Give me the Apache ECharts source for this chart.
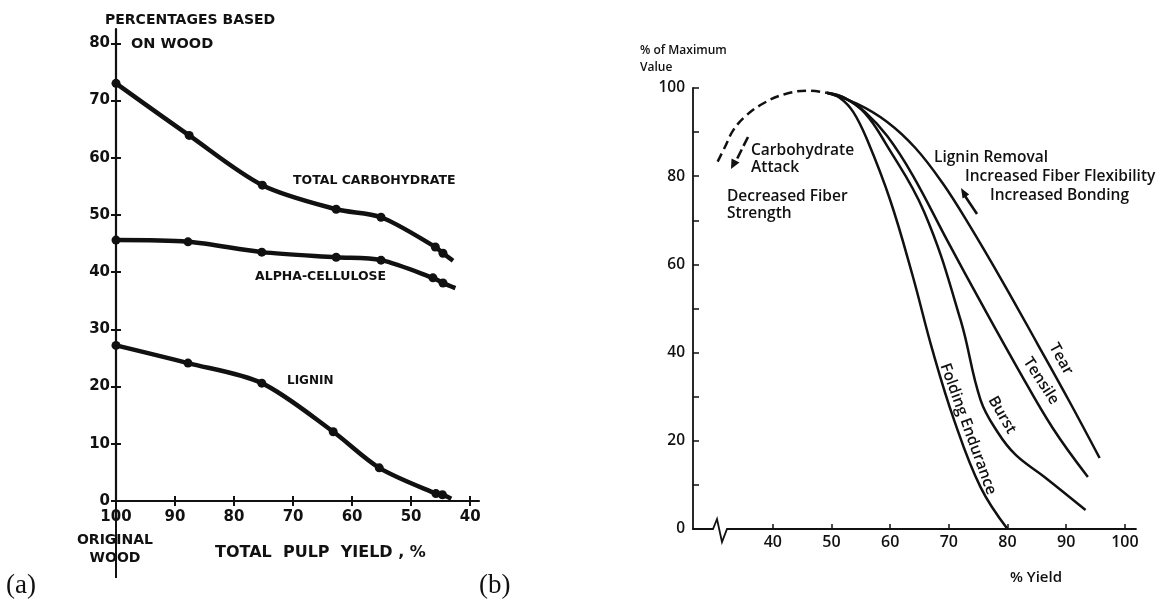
<!DOCTYPE html>
<html>
<head>
<meta charset="utf-8">
<script src="https://cdn.jsdelivr.net/npm/echarts@6/dist/echarts.min.js"></script>
<style>
  html, body { margin: 0; padding: 0; background: #fff; }
  #chart { width: 1165px; height: 604px; }
</style>
</head>
<body>
<div id="chart"></div>
<script>
// ---- Panel (a): pulp composition vs. total pulp yield ----
const yieldTicksA = [100, 90, 80, 70, 60, 50, 40];
const percentTicksA = [0, 10, 20, 30, 40, 50, 60, 70, 80];
// measured points [yield %, % on wood]
const totalCarbohydrate = [[100, 73.0], [87.6, 63.9], [75.2, 55.2], [62.7, 51.0], [55.1, 49.6], [45.9, 44.4], [44.6, 43.3]];
const totalCarbohydrateTail = [42.9, 42.0];
const alphaCellulose = [[100, 45.6], [87.8, 45.3], [75.3, 43.5], [62.7, 42.6], [55.1, 42.1], [46.3, 39.0], [44.6, 38.1]];
const alphaCelluloseTail = [42.5, 37.2];
const lignin = [[100, 27.2], [87.8, 24.1], [75.3, 20.6], [63.2, 12.1], [55.4, 5.8], [45.8, 1.3], [44.7, 1.1]];
const ligninTail = [43.2, 0.4];

// ---- Panel (b): pulp strength properties vs. yield ----
const yieldTicksB = [40, 50, 60, 70, 80, 90, 100];
const carbohydrateAttack = [[30.6, 83.3], [31.8, 86.5], [33.3, 90.5], [35.5, 93.8], [38.5, 96.6], [42, 98.6], [46, 99.4], [49.2, 98.9]];
const foldingEndurance = [[49.2, 98.9], [51.5, 97.7], [53.7, 94.6], [56.1, 88.2], [60.0, 74.6], [63.8, 57.6], [67.2, 40.6], [70.9, 24.7], [75.4, 9.5], [80.0, 0]];
const burst = [[49.2, 98.9], [52.3, 97.7], [55.7, 94.3], [59.2, 87.5], [65.8, 71.9], [72.0, 47.4], [75.4, 29.3], [78.3, 22.0], [81.4, 16.8], [86.3, 11.8], [93.3, 4.3]];
const tensile = [[49.2, 98.9], [52.3, 97.7], [55.7, 94.6], [59.5, 89.1], [63.8, 80.3], [69.7, 65.5], [75.7, 50.8], [81.7, 36.5], [87.7, 22.9], [93.7, 11.8]];
const tear = [[49.2, 98.9], [54.4, 96.4], [59.5, 92.3], [64.3, 86.4], [68.9, 78.5], [73.5, 68.9], [79.2, 56.0], [85.1, 42.0], [90.6, 28.8], [95.7, 16.1]];

const INK = '#111';
const fontA = '"DejaVu Sans", sans-serif';
const fontB = '"Open Sans", "Noto Sans", sans-serif';

function markedSeries(points, tail) {
  const data = points.map(p => ({ value: p }));
  data.push({ value: tail, symbol: 'none' });
  return data;
}

function lineA(data) {
  return {
    type: 'line', xAxisIndex: 0, yAxisIndex: 0, data: data,
    smooth: 0.3, symbol: 'circle', symbolSize: 9,
    itemStyle: { color: INK }, lineStyle: { color: INK, width: 4.5 },
    silent: true, animation: false, z: 3
  };
}
function lineB(data, dashed) {
  return {
    type: 'line', xAxisIndex: 2, yAxisIndex: 2, data: data,
    smooth: 0.4, symbol: 'none',
    lineStyle: { color: INK, width: 2.5, type: dashed ? [9, 5] : 'solid' },
    silent: true, animation: false
  };
}

function text(x, y, str, font, align, extra) {
  return Object.assign({
    type: 'text', x: x, y: y, silent: true, z: 10,
    style: { text: str, font: font, fill: INK, align: align || 'left', verticalAlign: 'middle' }
  }, extra || {});
}
function rotText(cx, cy, str, deg) {
  return {
    type: 'text', x: cx, y: cy, rotation: -deg * Math.PI / 180, silent: true, z: 10,
    style: { text: str, font: '600 15.5px ' + fontB, fill: INK, align: 'center', verticalAlign: 'middle' }
  };
}

const chart = echarts.init(document.getElementById('chart'), null, { renderer: 'canvas' });

const axisLineA = { show: true, lineStyle: { color: INK, width: 2.2 } };
const labelA = { color: INK, fontFamily: fontA, fontWeight: 'bold', fontSize: 15 };
const fontBText = '600 15.5px ' + fontB;

chart.setOption({
  backgroundColor: '#fff',
  animation: false,
  grid: [
    { left: 116, top: 29, width: 363, height: 472 },
    { left: 693, top: 88, width: 443, height: 441 }
  ],
  xAxis: [
    { // panel (a), ticks below axis + labels
      type: 'value', gridIndex: 0, inverse: true, min: 38.5, max: 100, position: 'bottom',
      axisLine: axisLineA, splitLine: { show: false },
      axisTick: { show: true, length: 5, lineStyle: { color: INK, width: 2 }, customValues: yieldTicksA },
      axisLabel: Object.assign({ margin: 9, customValues: yieldTicksA }, labelA)
    },
    { // panel (a), ticks above axis
      type: 'value', gridIndex: 0, inverse: true, min: 38.5, max: 100, position: 'bottom',
      axisLine: { show: false }, splitLine: { show: false }, axisLabel: { show: false },
      axisTick: { show: true, inside: true, length: 5, lineStyle: { color: INK, width: 2 }, customValues: yieldTicksA }
    },
    { // panel (b)
      type: 'value', gridIndex: 1, min: 26.4, max: 101.9, position: 'bottom',
      axisLine: { show: true, lineStyle: { color: INK, width: 1.8 } }, splitLine: { show: false },
      axisTick: { show: true, inside: true, length: 5, lineStyle: { color: INK, width: 1.5 }, customValues: yieldTicksB },
      axisLabel: { margin: 5, customValues: yieldTicksB, color: INK, fontFamily: fontB, fontWeight: 600, fontSize: 16 }
    }
  ],
  yAxis: [
    {
      type: 'value', gridIndex: 0, min: 0, max: 82.5, position: 'left',
      axisLine: axisLineA, splitLine: { show: false },
      axisTick: { show: true, length: 5, lineStyle: { color: INK, width: 2 }, customValues: percentTicksA },
      axisLabel: Object.assign({ margin: 6, customValues: percentTicksA }, labelA)
    },
    {
      type: 'value', gridIndex: 0, min: 0, max: 82.5, position: 'left',
      axisLine: { show: false }, splitLine: { show: false }, axisLabel: { show: false },
      axisTick: { show: true, inside: true, length: 5, lineStyle: { color: INK, width: 2 }, customValues: percentTicksA }
    },
    {
      type: 'value', gridIndex: 1, min: 0, max: 100, interval: 10, position: 'left',
      axisLine: { show: true, lineStyle: { color: INK, width: 1.8 } }, splitLine: { show: false },
      axisTick: { show: true, inside: true, length: 6, lineStyle: { color: INK, width: 1.5 } },
      axisLabel: { margin: 8, color: INK, fontFamily: fontB, fontWeight: 600, fontSize: 15.5,
        formatter: v => (v % 20 === 0 ? String(v) : '') }
    }
  ],
  series: [
    lineA(markedSeries(totalCarbohydrate, totalCarbohydrateTail)),
    lineA(markedSeries(alphaCellulose, alphaCelluloseTail)),
    lineA(markedSeries(lignin, ligninTail)),
    lineB(carbohydrateAttack, true),
    lineB(foldingEndurance),
    lineB(burst),
    lineB(tensile),
    lineB(tear)
  ],
  graphic: [
    // panel (a) annotations
    text(105, 20, 'PERCENTAGES BASED', 'bold 14px ' + fontA),
    text(131, 44, 'ON WOOD', 'bold 14.5px ' + fontA),
    text(293, 181, 'TOTAL CARBOHYDRATE', 'bold 12.5px ' + fontA),
    text(255, 277, 'ALPHA-CELLULOSE', 'bold 12.5px ' + fontA),
    text(287, 381, 'LIGNIN', 'bold 12px ' + fontA),
    { type: 'line', silent: true, shape: { x1: 116, y1: 501, x2: 116, y2: 578 }, style: { stroke: INK, lineWidth: 2 } },
    text(115, 540, 'ORIGINAL', 'bold 14px ' + fontA, 'center'),
    text(115, 558, 'WOOD', 'bold 14px ' + fontA, 'center'),
    text(215, 553, 'TOTAL  PULP  YIELD , %', 'bold 16px ' + fontA),
    text(6, 586, '(a)', '27px "Liberation Serif", "DejaVu Serif", serif'),
    text(479, 586, '(b)', '27px "Liberation Serif", "DejaVu Serif", serif'),

    // panel (b) annotations
    text(640, 51, '% of Maximum', '600 12px ' + fontB),
    text(640, 68, 'Value', '600 12px ' + fontB),
    text(751, 151, 'Carbohydrate', fontBText),
    text(751, 168, 'Attack', fontBText),
    text(727, 197, 'Decreased Fiber', fontBText),
    text(727, 214, 'Strength', fontBText),
    text(934, 158, 'Lignin Removal', fontBText),
    text(965, 177, 'Increased Fiber Flexibility', fontBText),
    text(990, 196, 'Increased Bonding', fontBText),
    text(1036, 578, '% Yield', '600 15px ' + fontB, 'center'),
    rotText(1061, 359, 'Tear', 61),
    rotText(1041, 381, 'Tensile', 57),
    rotText(1002, 415, 'Burst', 60),
    rotText(968, 429, 'Folding Endurance', 70),

    // carbohydrate-attack arrow (dashed, pointing down-left)
    { type: 'polyline', silent: true, shape: { points: [[748, 137], [736, 161]] },
      style: { stroke: INK, lineWidth: 2.6, lineDash: [10, 4], fill: null } },
    { type: 'polygon', silent: true, shape: { points: [[731, 169], [739.5, 162.5], [731.5, 158.5]] }, style: { fill: INK } },
    // lignin-removal arrow (pointing up-left)
    { type: 'line', silent: true, shape: { x1: 977, y1: 214, x2: 965, y2: 196 }, style: { stroke: INK, lineWidth: 2.6 } },
    { type: 'polygon', silent: true, shape: { points: [[961, 188], [969.2, 194.4], [962.6, 198.6]] }, style: { fill: INK } },
    // axis break on the yield axis
    { type: 'rect', silent: true, z: 20, shape: { x: 711, y: 526, width: 17, height: 6 }, style: { fill: '#fff' } },
    { type: 'polyline', silent: true, z: 21, shape: { points: [[710, 529], [713, 529], [717, 519], [722, 542], [727, 529], [730, 529]] },
      style: { stroke: INK, lineWidth: 1.8, fill: null } }
  ]
});
</script>
</body>
</html>
